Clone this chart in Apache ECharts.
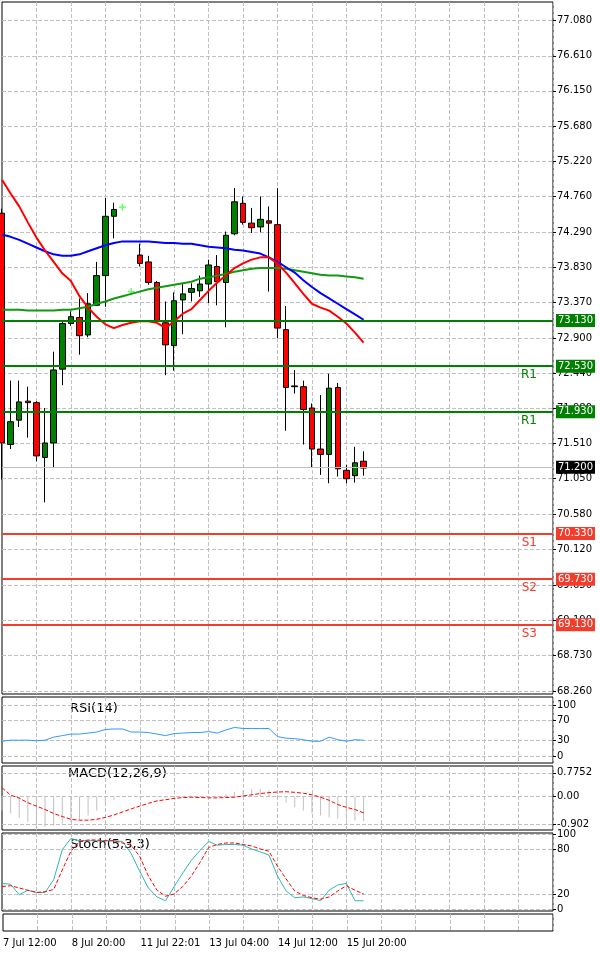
<!DOCTYPE html>
<html><head><meta charset="utf-8">
<script src="https://cdn.jsdelivr.net/npm/echarts@6/dist/echarts.min.js"></script>
<style>html,body{margin:0;padding:0;background:#fff}#c{width:600px;height:956px}</style>
</head><body><div id="c"></div>
<script>
// ---- data ----
const N = 65;
const timeLabels = {0:'7 Jul 12:00',8:'8 Jul 20:00',16:'11 Jul 22:01',24:'13 Jul 04:00',32:'14 Jul 12:00',40:'15 Jul 20:00'};
const priceTicks = [77.08,76.61,76.15,75.68,75.22,74.76,74.29,73.83,73.37,72.90,72.44,71.98,71.51,71.05,70.58,70.12,69.65,69.19,68.73,68.26];
// [open, close, low, high]
const candles = [
 [74.54,71.52,71.04,74.60],[71.50,71.80,71.44,72.34],[71.82,72.06,71.73,72.34],[72.07,72.05,71.59,72.26],
 [72.05,71.35,71.28,72.07],[71.33,71.52,70.74,71.98],[71.52,72.48,71.19,72.72],[72.49,73.09,72.28,73.13],
 [73.09,73.18,73.06,73.25],[73.17,72.93,72.68,73.42],[72.94,73.35,72.91,73.49],[73.33,73.72,73.32,73.90],
 [73.72,74.50,73.31,74.74],[74.50,74.59,74.21,74.68],'-','-',
 [73.99,73.88,73.84,74.14],[73.90,73.63,73.60,73.98],[73.63,73.12,73.10,73.65],[73.10,72.81,72.41,73.38],
 [72.80,73.39,72.47,73.50],[73.40,73.48,72.95,73.62],[73.50,73.55,73.38,73.62],[73.52,73.61,73.44,73.72],
 [73.61,73.86,73.36,73.93],[73.84,73.64,73.33,73.99],[73.63,74.25,73.04,74.30],[74.27,74.69,74.25,74.87],
 [74.67,74.42,74.39,74.76],[74.41,74.35,74.28,74.61],[74.36,74.46,74.29,74.76],[74.44,74.41,73.51,74.63],
 [74.39,73.03,72.90,74.87],[73.01,72.25,71.68,73.32],[72.27,72.26,72.17,72.48],[72.26,71.96,71.50,72.34],
 [71.98,71.44,71.19,72.04],[71.44,71.37,71.10,72.15],[71.37,72.24,70.99,72.43],[72.25,71.18,71.08,72.31],
 [71.16,71.05,70.99,71.23],[71.09,71.26,71.00,71.47],[71.28,71.19,71.09,71.41]
];
const maRed = [74.98,74.80,74.63,74.42,74.22,74.05,73.90,73.75,73.65,73.45,73.30,73.18,73.08,73.03,73.07,73.10,73.12,73.12,73.10,73.03,73.12,73.22,73.28,73.40,73.52,73.63,73.72,73.82,73.88,73.93,73.96,73.96,73.88,73.76,73.62,73.48,73.35,73.30,73.26,73.18,73.09,72.97,72.84];
const maBlue = [74.26,74.23,74.19,74.14,74.09,74.04,74.00,73.98,73.98,74.00,74.04,74.08,74.12,74.15,74.17,74.17,74.17,74.17,74.16,74.15,74.15,74.14,74.14,74.12,74.10,74.09,74.08,74.06,74.05,74.03,74.01,73.96,73.90,73.83,73.76,73.66,73.57,73.49,73.42,73.35,73.28,73.21,73.14];
const maGreen = [73.27,73.27,73.27,73.26,73.26,73.26,73.26,73.27,73.27,73.29,73.31,73.35,73.38,73.42,73.45,73.48,73.51,73.54,73.56,73.58,73.60,73.62,73.64,73.68,73.70,73.72,73.74,73.77,73.79,73.81,73.82,73.82,73.82,73.81,73.79,73.77,73.75,73.73,73.72,73.72,73.71,73.70,73.68];
const resistance = [73.13,72.53,71.93];
const resistanceNames = ['','R1','R1'];
const support = [70.33,69.73,69.13];
const supportNames = ['S1','S2','S3'];
const lastPrice = 71.20;
const arrows = [[14,74.62],[15,73.51]];
const rsi = [29,31,31,31,30,31,37,40,43,43,45,47,52,53,53,47,47,46,43,40,44,45,46,46,48,45,51,56,54,54,54,54,38,35,34,32,29,29,37,32,29,32,31];
const macdHist = [-0.45,-0.55,-0.70,-0.82,-0.95,-0.98,-0.95,-0.88,-0.82,-0.75,-0.62,-0.45,-0.25,-0.10,-0.02,0,-0.02,-0.02,-0.02,-0.03,-0.03,-0.02,-0.01,0,0,0.03,0.08,0.15,0.20,0.25,0.25,0.20,0.05,-0.20,-0.35,-0.45,-0.55,-0.62,-0.68,-0.72,-0.75,-0.78,-0.80];
const macdSignal = [0.29,0.05,-0.05,-0.20,-0.31,-0.42,-0.55,-0.65,-0.74,-0.77,-0.77,-0.74,-0.68,-0.60,-0.50,-0.40,-0.31,-0.22,-0.14,-0.10,-0.06,-0.03,-0.02,-0.03,-0.04,-0.04,-0.03,-0.02,0.02,0.06,0.10,0.13,0.15,0.16,0.14,0.11,0.06,-0.02,-0.12,-0.26,-0.35,-0.42,-0.53];
const stochK = [34,33,19,25,22,22,39,79,94,91,91,91,91,91,90,74,50,28,16,11,30,48,65,78,90,85,86,86,85,80,76,72,44,24,15,16,14,11,25,32,34,11,11];
const stochD = [30,31,28,25,22,23,26,52,77,90,92,92,91,91,88,85,70,44,25,17,20,30,44,62,82,86,88,88,86,84,80,77,57,40,24,18,15,13,16,24,31,25,20];

// ---- chart ----
const cats = Array.from({length:N},(_,i)=>String(i));
const font = 'DejaVu Sans';
const grids = [
 {left:2,right:47,top:2,height:692},
 {left:2,right:47,top:697,height:66},
 {left:2,right:47,top:766,height:64},
 {left:2,right:47,top:833,height:78},
 {left:2,right:47,top:914,height:17}
].map(g=>Object.assign({show:true,borderColor:'#000',borderWidth:1,backgroundColor:'#fff'},g));
const xAxes = grids.map((g,i)=>({
 type:'category',gridIndex:i,data:cats,boundaryGap:false,
 axisLine:{show:false},axisTick:{show:false},
 axisLabel:{show:i===4,interval:0,align:'left',fontSize:10,fontFamily:font,color:'#000',margin:7,
   formatter:(v,idx)=>timeLabels[idx]||''},
 splitLine:{show:true,interval:(idx)=>idx%4===0&&idx>0,lineStyle:{color:'#c0c0c0',type:'dashed'}}
}));
function yax(gi,min,max,vals,fmt,split){
 return {type:'value',gridIndex:gi,min:min,max:max,position:'right',
  axisLine:{show:false},
  axisTick:{show:true,customValues:vals,length:3,lineStyle:{color:'#000'}},
  axisLabel:{show:true,customValues:vals,fontSize:10,fontFamily:font,color:'#000',margin:4,formatter:fmt},
  splitLine:{show:split,lineStyle:{color:'#c0c0c0',type:'dashed'}}};
}
const yAxes = [
 yax(0,68.22,77.317,priceTicks,v=>v.toFixed(3),true),
 yax(1,-13.7,115.7,[0,30,70,100],v=>String(v),true),
 yax(2,-1.09,1.0,[-0.902,0,0.7752],v=>v===0?'0.00':String(v),true),
 yax(3,-2.7,101.3,[0,20,80,100],v=>String(v),true),
 {type:'value',gridIndex:4,min:0,max:10,position:'right',axisLine:{show:false},axisTick:{show:false},axisLabel:{show:false},splitLine:{show:false}}
];

function levelLines(vals,names,color){
 const d=[];
 vals.forEach((v,i)=>{
  d.push({yAxis:v,lineStyle:{color:color,width:2,type:'solid'},
    label:{show:true,position:'end',distance:3,formatter:v.toFixed(3),color:'#fff',backgroundColor:color,padding:[2,2,1,2],fontSize:10,fontFamily:font}});
 });
 return d;
}
function nameLines(vals,names,color){
 const d=[];
 vals.forEach((v,i)=>{
  if(names[i]) d.push({yAxis:v,
    label:{show:true,position:'insideEndBottom',distance:[16,3],formatter:names[i],color:color,fontSize:12,fontFamily:font}});
 });
 return d;
}
const series = [
 {type:'candlestick',xAxisIndex:0,yAxisIndex:0,data:candles,barWidth:6,
  itemStyle:{color:'#008000',color0:'#ff0000',borderColor:'#000',borderColor0:'#000',borderWidth:1},
  markLine:{symbol:'none',silent:true,animation:false,
   data:[...levelLines(resistance,resistanceNames,'#008000'),...levelLines(support,supportNames,'#f23c2c'),
    {yAxis:lastPrice,lineStyle:{color:'#c0c0c0',width:1,type:'solid'},
     label:{show:true,position:'end',distance:3,formatter:lastPrice.toFixed(3),color:'#fff',backgroundColor:'#000',padding:[2,2,1,2],fontSize:10,fontFamily:font}}]}},
 {type:'line',xAxisIndex:0,yAxisIndex:0,data:maGreen,showSymbol:false,lineStyle:{color:'#119911',width:2},z:3,
  markLine:{symbol:'none',silent:true,animation:false,lineStyle:{color:'rgba(0,0,0,0)',width:0},
   data:[...nameLines(resistance,resistanceNames,'#008000'),...nameLines(support,supportNames,'#f23c2c')]}},
 {type:'line',xAxisIndex:0,yAxisIndex:0,data:maBlue,showSymbol:false,lineStyle:{color:'#0000ff',width:2},z:3},
 {type:'line',xAxisIndex:0,yAxisIndex:0,data:maRed,showSymbol:false,lineStyle:{color:'#ff0000',width:2},z:3},
 {type:'scatter',xAxisIndex:0,yAxisIndex:0,data:arrows,symbol:'path://M4,0L6,0L6,4L10,4L10,6L6,6L6,10L4,10L4,6L0,6L0,4L4,4Z',symbolSize:7,itemStyle:{color:'#33ff33'}},
 {type:'line',xAxisIndex:1,yAxisIndex:1,data:rsi,showSymbol:false,lineStyle:{color:'#3399ff',width:1}},
 {type:'bar',xAxisIndex:2,yAxisIndex:2,data:macdHist,barWidth:1,itemStyle:{color:'#c0c0c0'}},
 {type:'line',xAxisIndex:2,yAxisIndex:2,data:macdSignal,showSymbol:false,lineStyle:{color:'#ff0000',width:1,type:'dashed'}},
 {type:'line',xAxisIndex:3,yAxisIndex:3,data:stochK,showSymbol:false,lineStyle:{color:'#30b8b0',width:1}},
 {type:'line',xAxisIndex:3,yAxisIndex:3,data:stochD,showSymbol:false,lineStyle:{color:'#ff0000',width:1,type:'dashed'}}
];
const chart = echarts.init(document.getElementById('c'),null,{renderer:'canvas'});
chart.setOption({
 animation:false,backgroundColor:'#fff',
 grid:grids,xAxis:xAxes,yAxis:yAxes,series:series,
 graphic:[
  {type:'text',left:70,top:702,style:{text:'RSI(14)',font:'13px "DejaVu Sans"',fill:'#000'}},
  {type:'text',left:68,top:767,style:{text:'MACD(12,26,9)',font:'13px "DejaVu Sans"',fill:'#000'}},
  {type:'text',left:70,top:838,style:{text:'Stoch(5,3,3)',font:'13px "DejaVu Sans"',fill:'#000'}}
 ]
});
</script></body></html>
